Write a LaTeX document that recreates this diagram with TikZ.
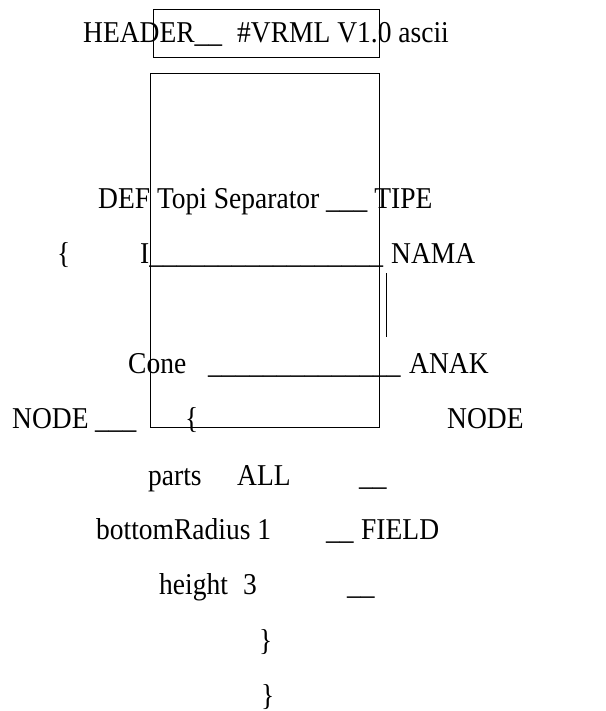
\documentclass[tikz,border=0pt]{standalone}
\usepackage{fontspec}
\setmainfont{Liberation Serif}
\newcommand\tx[1]{\scalebox{1}[1.1]{#1}}
\tikzset{
  word/.style={anchor=base west, inner sep=0pt, font=\fontsize{27.5}{33}\selectfont},
  frame/.style={draw, line width=1.1pt, inner sep=0pt, anchor=north west},
  bar/.style={line width=1.1pt}
}
\begin{document}
\begin{tikzpicture}[x=1pt, y=-1pt]
\useasboundingbox (0,0) rectangle (605,711);

% frames
\node[frame, minimum width=226pt, minimum height=48pt] (hbox) at (153,9) {};
\node[frame, minimum width=229pt, minimum height=354pt] (bbox) at (150,73) {};

% header line
\node[word] (hdr) at (83,43) {\tx{HEADER\_\_}};
\node[word] (ver) at (237,43) {\tx{\#VRML V1.0 ascii}};

% DEF line
\node[word] (def) at (98,208) {\tx{DEF Topi Separator \_\_\_ TIPE}};

% name line
\node[word] (ob1) at (57,263) {\tx{\{}};
\node[word] (iline) at (140,263) {\tx{I\_\_\_\_\_\_\_\_\_\_\_\_\_\_\_\_\_}};
\node[word] (nama) at (391,263) {\tx{NAMA}};

% vertical bar
\coordinate (barT) at (386.7,273);
\coordinate (barB) at (386.7,337);
\draw[bar] (barT) -- (barB);

% Cone line
\node[word] (cone) at (128,373) {\tx{Cone}};
\node[word] (cline) at (208,373) {\tx{\_\_\_\_\_\_\_\_\_\_\_\_\_\_}};
\node[word] (anak) at (409,373) {\tx{ANAK}};

% NODE line
\node[word] (nodeL) at (12,428) {\tx{NODE}};
\node[word] (nline) at (95,428) {\tx{\_\_\_}};
\node[word] (ob2) at (185,428) {\tx{\{}};
\node[word] (nodeR) at (447,428) {\tx{NODE}};

% fields
\node[word] (parts) at (148,485) {\tx{parts}};
\node[word] (all) at (237,485) {\tx{ALL}};
\node[word] (f1) at (359,485) {\tx{\_\_}};

\node[word] (brad) at (96,539) {\tx{bottomRadius 1}};
\node[word] (f2) at (326,539) {\tx{\_\_}};
\node[word] (field) at (361,539) {\tx{FIELD}};

\node[word] (hgt) at (159,594) {\tx{height}};
\node[word] (three) at (243,594) {\tx{3}};
\node[word] (f3) at (347,594) {\tx{\_\_}};

% closing braces
\node[word] (cb1) at (259,650) {\tx{\}}};
\node[word] (cb2) at (261,705) {\tx{\}}};
\end{tikzpicture}
\end{document}
